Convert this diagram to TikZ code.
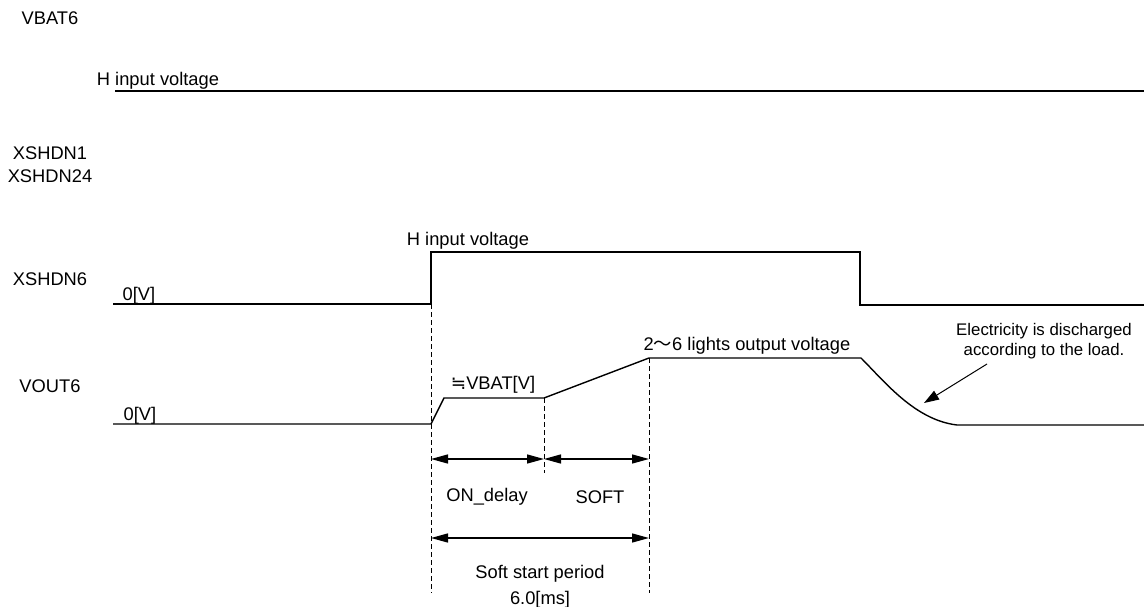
\documentclass[tikz,border=0pt]{standalone}
\usepackage{fontspec}
\setmainfont{Liberation Sans}
\newfontfamily\cjk{Noto Sans CJK JP}
\newfontfamily\symfont{DejaVu Sans}
\usetikzlibrary{arrows.meta}

\tikzset{
  wave/.style={line width=1.4pt},
  guide/.style={line width=0.9pt, dash pattern=on 5pt off 3pt},
  span/.style={line width=1.4pt,
    {Triangle[length=17pt,width=9pt]}-{Triangle[length=17pt,width=9pt]}},
  pointer/.style={line width=1pt, -{Triangle[length=15pt,width=10pt]}},
  lbl/.style={inner sep=0pt, font=\fontsize{18.3}{21}\selectfont},
  note/.style={inner sep=0pt, align=center, font=\fontsize{16.8}{20}\selectfont},
}

\begin{document}
\begin{tikzpicture}[x=1pt,y=-1pt]
  \useasboundingbox (0,0) rectangle (1144,607);

  % signal names
  \node[lbl] (vbat) at (50,18) {VBAT6};
  \node[lbl] (xs1) at (50,153) {XSHDN1};
  \node[lbl] (xs24) at (50,176) {XSHDN24};
  \node[lbl] (xs6) at (50,279) {XSHDN6};
  \node[lbl] (vout) at (50,386) {VOUT6};

  % VBAT6
  \node[lbl] (hin) at (158,81) {H input voltage};
  \draw[wave] (115,91) -- (1144,91);

  % XSHDN6
  \coordinate (x0) at (113,304);
  \coordinate (xr) at (431,304);
  \coordinate (xh) at (431,252);
  \coordinate (xf) at (860,252);
  \coordinate (xl) at (860,305);
  \coordinate (x1) at (1144,305);
  \draw[wave] (x0) -- (xr) -- (xh) -- (xf) -- (xl) -- (x1);
  \node[lbl] (xzero) at (139,296) {0[V]};
  \node[lbl] (xhigh) at (468,241) {H input voltage};

  % VOUT6
  \coordinate (v0) at (113,424);
  \coordinate (vr) at (431,424);
  \coordinate (va) at (444,398);
  \coordinate (vb) at (544,398);
  \coordinate (vc) at (649,358);
  \coordinate (vd) at (861,358);
  \coordinate (ve) at (957,425);
  \coordinate (v1) at (1144,425);
  \draw[wave] (v0) -- (vr) -- (va) -- (vb) -- (vc) -- (vd)
    .. controls (885,382) and (915,420) .. (ve) -- (v1);
  \node[lbl] (vzero) at (140,416) {0[V]};
  \node[lbl] (vbatv) at (493,385) {{\symfont ≒}VBAT[V]};
  \node[lbl] (vout26) at (747,346) {2{\cjk 〜}6 lights output voltage};

  % discharge note
  \node[note] (disnote) at (1044,341) {Electricity is discharged\\according to the load.};
  \coordinate (distail) at (987,364);
  \coordinate (distip) at (924,403);
  \draw[pointer] (distail) -- (distip);

  % timing guides
  \coordinate (g0) at (431,593);
  \coordinate (g1) at (544,473);
  \coordinate (g2) at (649,593);
  \draw[guide] (xr) -- (g0);
  \draw[guide] (vb) -- (g1);
  \draw[guide] (vc) -- (g2);

  \coordinate (a0) at (431,459);
  \coordinate (a1) at (544,459);
  \coordinate (a2) at (649,459);
  \coordinate (b0) at (431,538);
  \coordinate (b2) at (649,538);
  \draw[span] (a0) -- (a1);
  \draw[span] (a1) -- (a2);
  \draw[span] (b0) -- (b2);

  \node[lbl] (ondly) at (487,497) {ON\_delay};
  \node[lbl] (soft) at (600,497) {SOFT};
  \node[lbl] (sstart) at (540,574) {Soft start period};
  \node[lbl] (sstime) at (540,600) {6.0[ms]};
\end{tikzpicture}
\end{document}
